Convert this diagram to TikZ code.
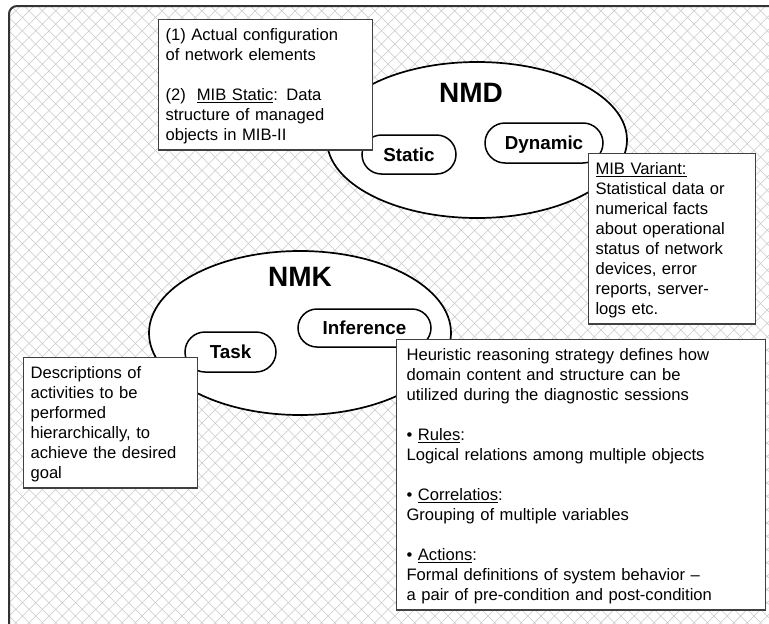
\documentclass[tikz,border=0pt]{standalone}
\usepackage{fontspec}
\setmainfont{Liberation Sans}
\usetikzlibrary{shapes.geometric}
% underline with a fixed offset and thickness
\newcommand{\undl}[1]{\sbox0{#1}\rlap{\rule[-3pt]{\wd0}{1pt}}\usebox0}
\begin{document}
\begin{tikzpicture}[x=1pt,y=-1pt,
  body/.style={font=\fontsize{16.6}{20}\selectfont},
  textbox/.style={draw=black!75, line width=1.1pt, fill=white, anchor=north west,
    align=left, inner xsep=7pt, inner ysep=6.5pt, body},
  pill/.style={draw, line width=1.5pt, fill=white, inner sep=0pt,
    text height=13.5pt, text depth=0pt,
    font=\fontsize{18.8}{22}\selectfont\bfseries},
  oval/.style={ellipse, draw, line width=1.7pt, fill=white, inner sep=0pt},
  title/.style={font=\fontsize{28}{32}\selectfont\bfseries},
  hatch/.style={gray!42, line width=0.55pt},
]
\useasboundingbox (0,0) rectangle (769,624);
\fill[white] (0,0) rectangle (769,624);

% cross-hatched background inside the frame
\begin{scope}
  \clip[rounded corners=8pt] (9,6) rectangle (790,640);
  \foreach \i in {0,...,110} {
    \draw[hatch] ({-700+13.3*\i},0) -- ++(700,700);
    \draw[hatch] ({13.3*\i},0) -- ++(-700,700);
  }
\end{scope}
\draw[line width=2pt, black!80, rounded corners=8pt] (9,6) rectangle (790,640);

% NMD
\node[oval, minimum width=300pt, minimum height=156pt] (nmd) at (477,140) {};
\node[title] (nmdlabel) at (471,93) {NMD};
\node[pill, minimum width=94pt, minimum height=39pt, rounded corners=19.5pt] (static) at (409,154.5) {Static};
\node[pill, minimum width=118pt, minimum height=40pt, rounded corners=20pt] (dynamic) at (544,143) {Dynamic};

\node[textbox, text width=200pt] (staticnote) at (158,19)
  {\strut(1) Actual configuration\\of network elements\\[20pt](2)\ \ \undl{MIB Static}: Data\\structure of managed\\objects in MIB-II};
\node[textbox, text width=153pt] (dynamicnote) at (588,153)
  {\strut\undl{MIB Variant:}\\Statistical data or\\numerical facts\\about operational\\status of network\\devices, error\\reports, server-\\logs etc.};

% NMK
\node[oval, minimum width=302pt, minimum height=164pt] (nmk) at (300,333) {};
\node[title] (nmklabel) at (300,277) {NMK};
\node[pill, minimum width=133pt, minimum height=38pt, rounded corners=19pt] (inference) at (364.5,328) {Inference};
\node[pill, minimum width=91pt, minimum height=40pt, rounded corners=20pt] (task) at (230.5,352) {Task};

\node[textbox, text width=160pt] (tasknote) at (23,357)
  {\strut Descriptions of\\activities to be\\performed\\hierarchically, to\\achieve the desired\\goal};
\node[textbox, inner xsep=10pt, text width=349pt] (inferencenote) at (396,339)
  {\strut Heuristic reasoning strategy defines how\\domain content and structure can be\\utilized during the diagnostic sessions\\[20pt]%
   • \undl{Rules}:\\Logical relations among multiple objects\\[20pt]%
   • \undl{Correlatios}:\\Grouping of multiple variables\\[20pt]%
   • \undl{Actions}:\\Formal definitions of system behavior –\\a pair of pre-condition and post-condition};
\end{tikzpicture}
\end{document}
